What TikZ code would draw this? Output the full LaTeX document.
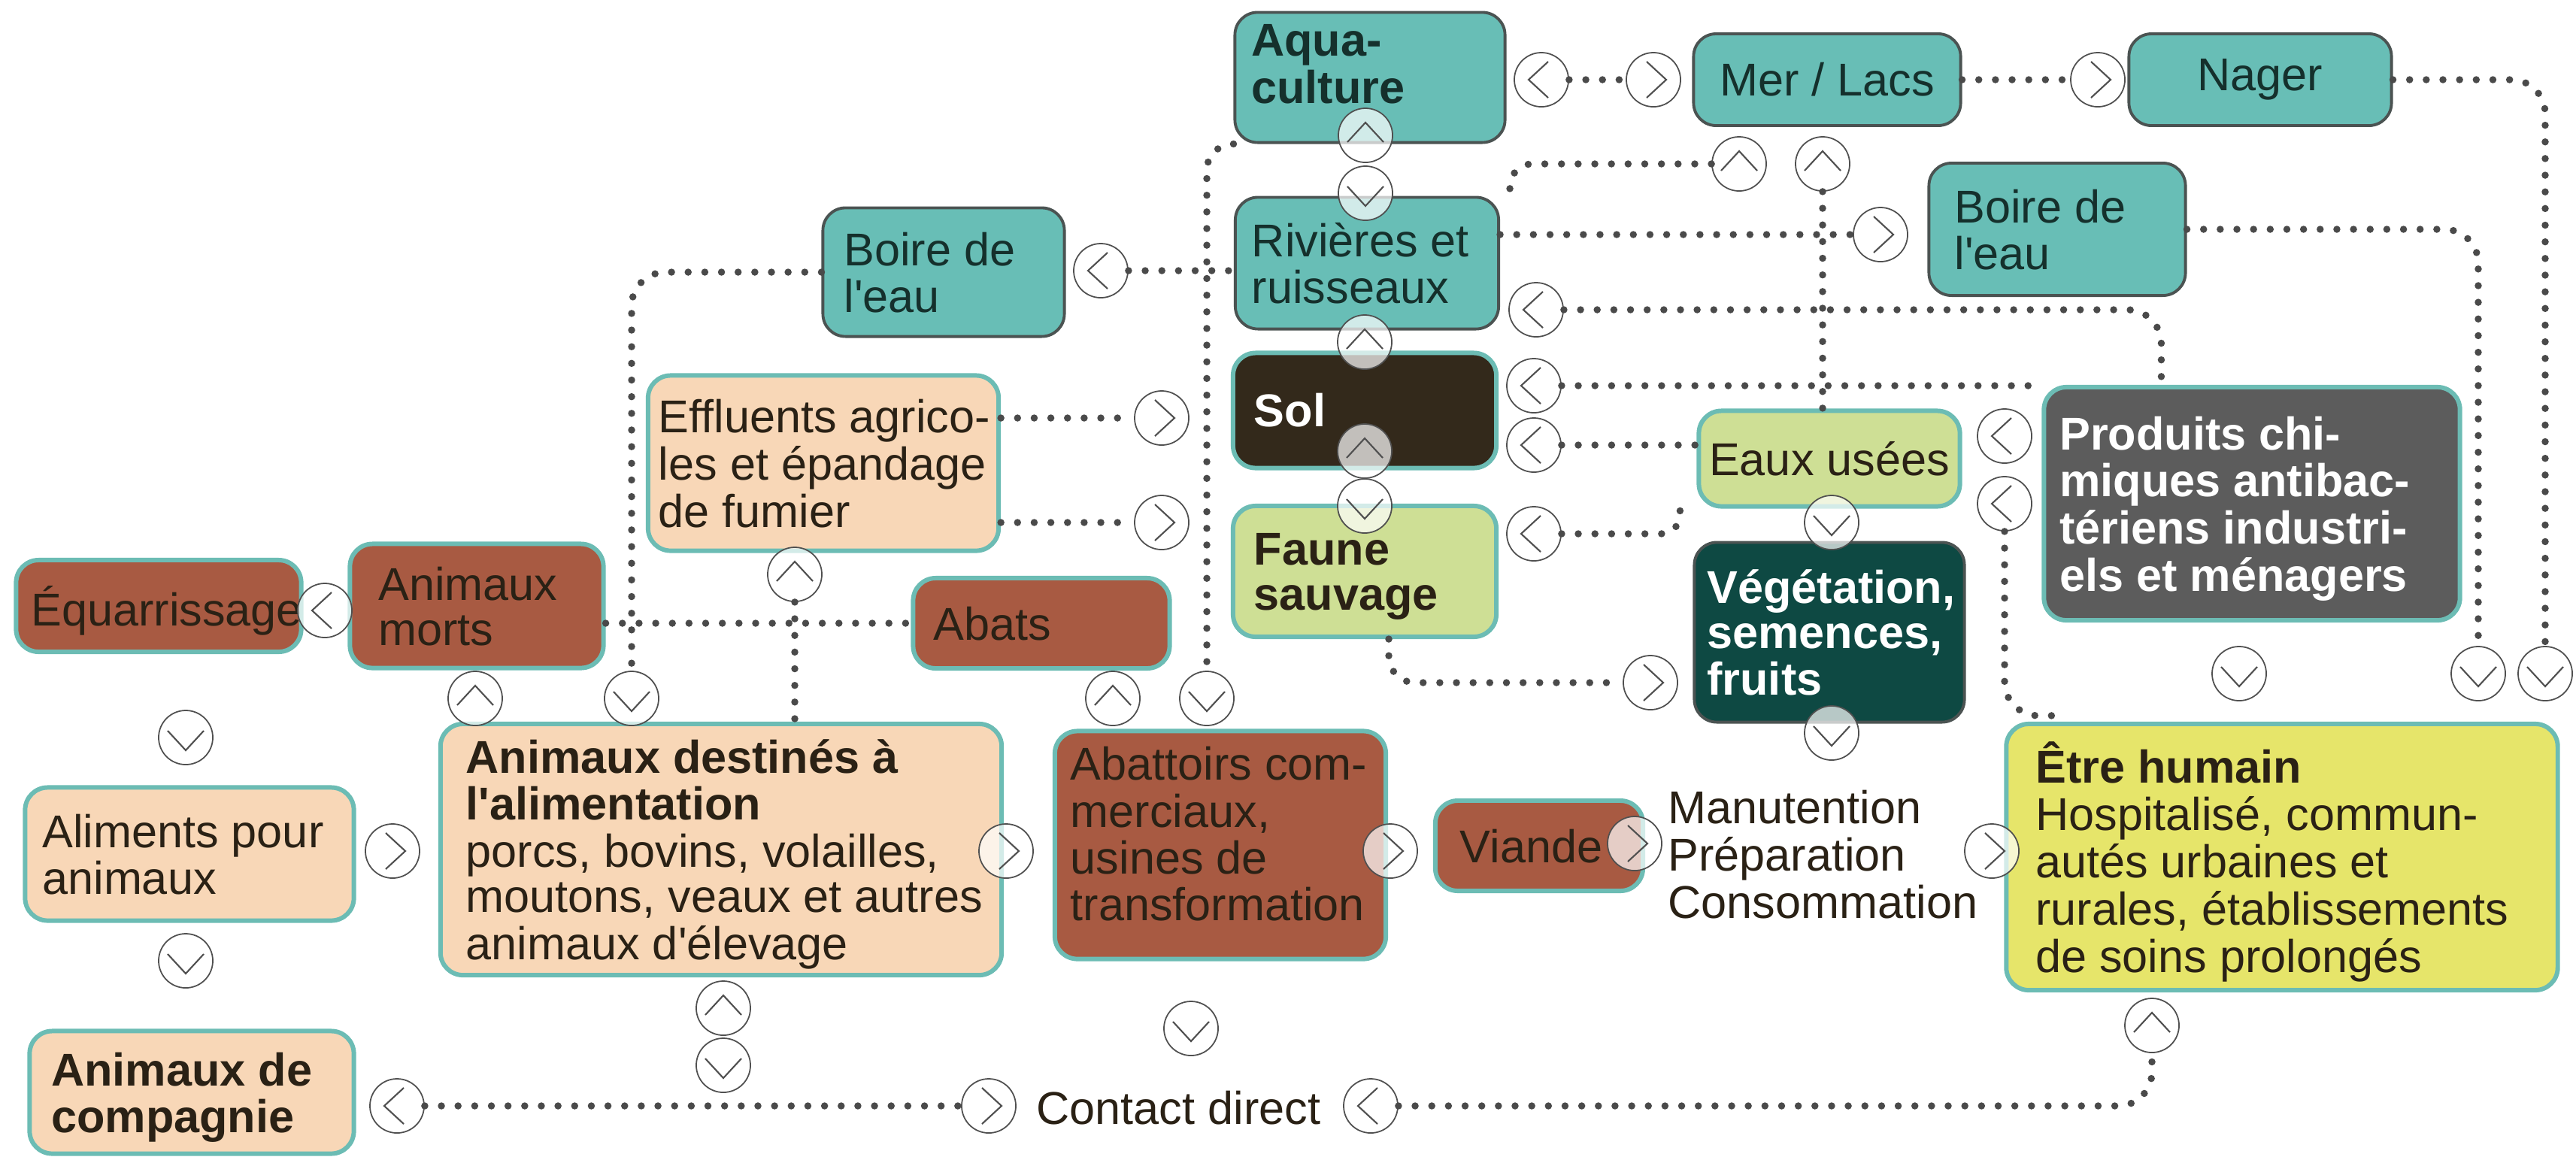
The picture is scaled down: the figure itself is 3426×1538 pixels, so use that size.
\documentclass[tikz,border=0pt]{standalone}
\usepackage{fontspec}
\setmainfont{Liberation Sans}
\usetikzlibrary{calc}
\definecolor{teal1}{HTML}{68BEB6}
\definecolor{tealb}{HTML}{6CBCB4}
\definecolor{darkb}{HTML}{4B5352}
\definecolor{brown1}{HTML}{A85A42}
\definecolor{peach}{HTML}{F8D7B7}
\definecolor{lgreen}{HTML}{CEDF95}
\definecolor{solc}{HTML}{33291B}
\definecolor{vegc}{HTML}{0E4943}
\definecolor{prodc}{HTML}{5C5C5C}
\definecolor{yel}{HTML}{E6E56A}
\definecolor{txt}{HTML}{2A2115}
\definecolor{ttxt}{HTML}{15302C}
\definecolor{dotc}{HTML}{4A4A4A}
\definecolor{circ}{HTML}{505050}
\newcommand{\tb}[2]{\raisebox{-2.6pt}[\height][\depth]{\makebox[#1][l]{\begin{tabular}{@{}l@{}}#2\end{tabular}}}}
\newcommand{\apo}{\textquotesingle}
\tikzset{
  nbox/.style={rounded corners=0.3cm, inner ysep=0pt, line width=1.7pt, draw=tealb, text=txt},
  wbox/.style={nbox, fill=teal1, draw=darkb, line width=1.1pt, text=ttxt},
  pbox/.style={nbox, fill=peach},
  bbox/.style={nbox, fill=brown1},
  gbox/.style={nbox, fill=lgreen},
  chev/.style={circle, minimum size=0.72cm, inner sep=0pt, draw=circ, line width=0.5pt, fill=white, fill opacity=0.7},
  cL/.style={chev, path picture={\draw[circ, line width=0.6pt] ([shift={(0.09cm,0.24cm)}]path picture bounding box.center) -- ([shift={(-0.17cm,0cm)}]path picture bounding box.center) -- ([shift={(0.09cm,-0.24cm)}]path picture bounding box.center);}},
  cR/.style={chev, path picture={\draw[circ, line width=0.6pt] ([shift={(-0.09cm,0.24cm)}]path picture bounding box.center) -- ([shift={(0.17cm,0cm)}]path picture bounding box.center) -- ([shift={(-0.09cm,-0.24cm)}]path picture bounding box.center);}},
  cU/.style={chev, path picture={\draw[circ, line width=0.6pt] ([shift={(-0.24cm,-0.09cm)}]path picture bounding box.center) -- ([shift={(0cm,0.17cm)}]path picture bounding box.center) -- ([shift={(0.24cm,-0.09cm)}]path picture bounding box.center);}},
  cD/.style={chev, path picture={\draw[circ, line width=0.6pt] ([shift={(-0.24cm,0.09cm)}]path picture bounding box.center) -- ([shift={(0cm,-0.17cm)}]path picture bounding box.center) -- ([shift={(0.24cm,0.09cm)}]path picture bounding box.center);}},
  dots/.style={draw=dotc, line width=2.7pt, line cap=round, dash pattern=on 0pt off 6.3pt},
}
\begin{document}
\begin{tikzpicture}[x=0.01cm, y=-0.01cm, font=\fontsize{17.4pt}{17.1pt}\selectfont]
\useasboundingbox (0,0) rectangle (3426,1538);
% boxes
\node[wbox, minimum width=3.59cm, minimum height=1.73cm, inner xsep=0.22cm] (aqua) at (1822,103) {\tb{3.15cm}{\textbf{Aqua-}\\\textbf{culture}\\[0.36cm]}};
\node[wbox, minimum width=3.55cm, minimum height=1.22cm] (mer) at (2430,106) {Mer / Lacs};
\node[wbox, minimum width=3.49cm, minimum height=1.22cm] (nager) at (3006,106) {Nager};
\node[wbox, minimum width=3.50cm, minimum height=1.75cm, inner xsep=0.22cm] (riv) at (1818,350) {\tb{3.06cm}{Rivières et\\ruisseaux}};
\node[wbox, minimum width=3.21cm, minimum height=1.71cm, inner xsep=0.28cm] (boireL) at (1255,362) {\tb{2.65cm}{Boire de\\l\apo eau}};
\node[wbox, minimum width=3.41cm, minimum height=1.76cm, inner xsep=0.34cm] (boireR) at (2736,305) {\tb{2.73cm}{Boire de\\l\apo eau}};
\node[nbox, fill=solc, text=white, minimum width=3.5cm, minimum height=1.53cm, inner xsep=0.28cm] (sol) at (1815,546) {\makebox[2.94cm][l]{\textbf{Sol}}};
\node[gbox, minimum width=3.5cm, minimum height=1.74cm, inner xsep=0.28cm] (faune) at (1815,760) {\tb{2.94cm}{\textbf{Faune}\\\textbf{sauvage}}};
\node[gbox, minimum width=3.47cm, minimum height=1.27cm] (eaux) at (2433,610) {Eaux usées};
\node[nbox, fill=vegc, draw=darkb, line width=1.1pt, text=white, minimum width=3.59cm, minimum height=2.39cm, inner xsep=0.17cm] (veg) at (2433,841) {\tb{3.25cm}{\textbf{Végétation,}\\\textbf{semences,}\\\textbf{fruits}}};
\node[nbox, fill=prodc, text=white, minimum width=5.53cm, minimum height=3.10cm, inner xsep=0.21cm] (prod) at (2995,670) {\tb{5.11cm}{\textbf{Produits chi-}\\\textbf{miques antibac-}\\\textbf{tériens industri-}\\\textbf{els et ménagers}}};
\node[pbox, minimum width=4.66cm, minimum height=2.33cm, inner xsep=0.14cm] (eff) at (1095,616) {\tb{4.38cm}{Effluents agrico-\\les et épandage\\de fumier}};
\node[bbox, minimum width=3.79cm, minimum height=1.22cm, inner xsep=0.2cm] (equa) at (211,806) {\tb{3.39cm}{Équarrissage}};
\node[bbox, minimum width=3.37cm, minimum height=1.65cm, inner xsep=0.38cm] (morts) at (634,806) {\tb{2.61cm}{Animaux\\morts}};
\node[bbox, minimum width=3.41cm, minimum height=1.2cm, inner xsep=0.27cm] (abats) at (1385,829) {\tb{2.87cm}{Abats}};
\node[pbox, minimum width=7.46cm, minimum height=3.34cm, inner xsep=0.34cm] (dest) at (959,1130) {\tb{6.78cm}{\textbf{Animaux destinés à}\\\textbf{l\apo alimentation}\\porcs, bovins, volailles,\\moutons, veaux et autres\\animaux d\apo élevage}};
\node[pbox, minimum width=4.37cm, minimum height=1.77cm, inner xsep=0.23cm] (alim) at (252,1136) {\tb{3.91cm}{Aliments pour\\animaux}};
\node[bbox, minimum width=4.4cm, minimum height=3.03cm, inner xsep=0.21cm] (abat) at (1623,1124) {\tb{3.98cm}{Abattoirs com-\\merciaux,\\usines de\\transformation\\[0.3cm]}};
\node[bbox, minimum width=2.76cm, minimum height=1.2cm, inner xsep=0.33cm] (viande) at (2047,1125) {\tb{2.1cm}{Viande}};
\node[anchor=west, inner sep=0pt, text=txt] (manut) at (2218,1136) {\tb{4.2cm}{Manutention\\Préparation\\Consommation}};
\node[nbox, fill=yel, minimum width=7.33cm, minimum height=3.54cm, inner xsep=0.39cm] (etre) at (3035,1140) {\tb{6.55cm}{\textbf{Être humain}\\Hospitalisé, commun-\\autés urbaines et\\rurales, établissements\\de soins prolongés}};
\node[pbox, minimum width=4.31cm, minimum height=1.63cm, inner xsep=0.29cm] (comp) at (255,1453) {\tb{3.73cm}{\textbf{Animaux de}\\\textbf{compagnie}}};
\node[anchor=west, inner sep=0pt, text=txt] (contact) at (1378,1474) {Contact direct};
% chevron circles
\node[cL] (c1) at (2050,106) {};
\node[cR] (c2) at (2199,106) {};
\node[cR] (c3) at (2790,106) {};
\node[cU] (c4) at (1816,180) {};
\node[cD] (c5) at (1816,257) {};
\node[cU] (c6) at (2313,218) {};
\node[cU] (c7) at (2424,218) {};
\node[cL] (c8) at (1464,360) {};
\node[cR] (c9) at (2501,312) {};
\node[cL] (c10) at (2043,412) {};
\node[cU] (c11) at (1815,455) {};
\node[cL] (c12) at (2040,513) {};
\node[cL] (c13) at (2040,592) {};
\node[cU] (c14) at (1815,600) {};
\node[cD] (c15) at (1815,673) {};
\node[cL] (c16) at (2040,710) {};
\node[cL] (c17) at (2666,580) {};
\node[cL] (c18) at (2666,670) {};
\node[cD] (c19) at (2436,695) {};
\node[cR] (c20) at (2195,908) {};
\node[cD] (c21) at (2436,975) {};
\node[cD] (c22) at (2978,896) {};
\node[cD] (c23) at (3296,896) {};
\node[cD] (c24) at (3385,896) {};
\node[cR] (c25) at (1545,556) {};
\node[cR] (c26) at (1545,695) {};
\node[cU] (c27) at (1057,764) {};
\node[cL] (c28) at (432,812) {};
\node[cU] (c29) at (632,929) {};
\node[cD] (c30) at (840,929) {};
\node[cU] (c31) at (1480,929) {};
\node[cD] (c32) at (1605,929) {};
\node[cD] (c33) at (247,981) {};
\node[cR] (c34) at (522,1132) {};
\node[cR] (c35) at (1338,1132) {};
\node[cR] (c36) at (1849,1132) {};
\node[cR] (c37) at (2174,1122) {};
\node[cR] (c38) at (2649,1132) {};
\node[cD] (c39) at (247,1278) {};
\node[cU] (c40) at (962,1341) {};
\node[cD] (c41) at (962,1417) {};
\node[cD] (c42) at (1584,1368) {};
\node[cL] (c43) at (528,1471) {};
\node[cR] (c44) at (1315,1471) {};
\node[cL] (c45) at (1823,1471) {};
\node[cU] (c46) at (2862,1364) {};
% connectors
\draw[dots] (c1.east) -- (c2.west);
\draw[dots] (mer.east) -- (c3.west);
\draw[dots, rounded corners=0.45cm] (nager.east) -| (c24.north);
\draw[dots, rounded corners=0.45cm] (boireR.east) -| (c23.north);
\draw[dots] (riv.east |- c9) -- (c9.west);
\draw[dots, rounded corners=0.3cm] (c6.west) -| ([xshift=0.13cm]riv.north east);
\draw[dots] (c7.south) -- (c7 |- eaux.north);
\draw[dots, rounded corners=0.45cm] (c10.east) -| ([xshift=1.59cm]prod.north west);
\draw[dots] (c12.east) -- (c12 -| prod.west);
\draw[dots] (c13.east) -- (c13 -| eaux.west);
\draw[dots, rounded corners=0.25cm] (c16.east) -| ([xshift=-0.22cm]eaux.south west);
\draw[dots, rounded corners=0.45cm] (c18.south) |- ([xshift=0.8cm,yshift=0.08cm]etre.north west);
\draw[dots, rounded corners=0.35cm] ([xshift=0.32cm]faune.south) |- (c20.west);
\draw[dots, rounded corners=0.35cm] (aqua.south west) -| (c32.north);
\draw[dots, rounded corners=0.45cm] (boireL.west) -| (c30.north);
\draw[dots] (c8.east) -- (c8 -| riv.west);
\draw[dots] (c25 -| eff.east) -- (c25.west);
\draw[dots] (c26 -| eff.east) -- (c26.west);
\draw[dots] (c27.south) -- (c27 |- dest.north);
\draw[dots] (abats.west -| morts.east) -- (abats.west);
\draw[dots] (c43.east) -- (c44.west);
\draw[dots, rounded corners=0.45cm] (c45.east) -| (c46.south);
\end{tikzpicture}
\end{document}
